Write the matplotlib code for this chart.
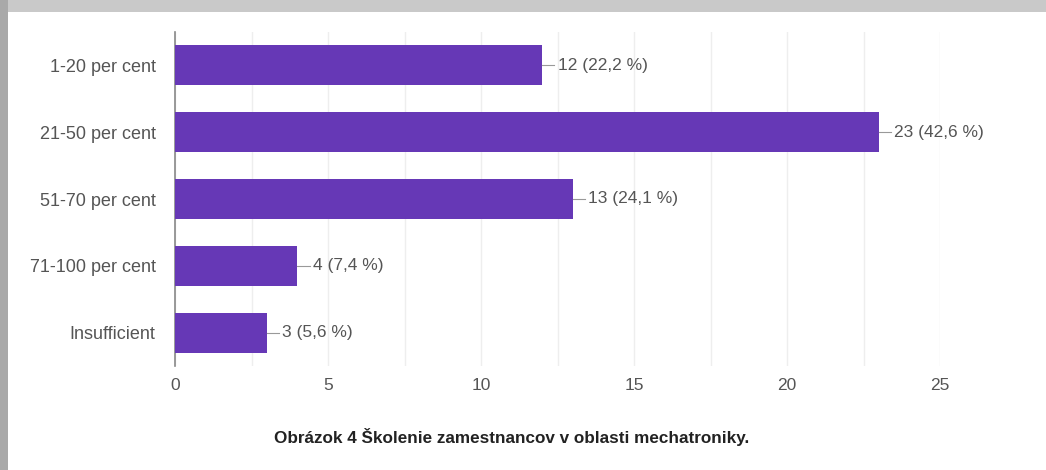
import matplotlib.pyplot as plt
from matplotlib.patches import Rectangle

# data
categories = ['1-20 per cent', '21-50 per cent', '51-70 per cent', '71-100 per cent', 'Insufficient']
counts = [12, 23, 13, 4, 3]
labels = ['12 (22,2 %)', '23 (42,6 %)', '13 (24,1 %)', '4 (7,4 %)', '3 (5,6 %)']
xticks = [0, 5, 10, 15, 20, 25]
caption = 'Obrázok 4 Školenie zamestnancov v oblasti mechatroniky.'

BAR = '#6638b6'
TXT = '#555555'
plt.rcParams['font.family'] = ['Liberation Sans', 'DejaVu Sans']

fig = plt.figure(figsize=(10.46, 4.70), dpi=100)
fig.patch.set_facecolor('white')

# grey frame of the screenshot (top band and left strip)
fig.patches.append(Rectangle((0, 1 - 12 / 470), 1, 12 / 470, transform=fig.transFigure,
                             facecolor='#c9c9c9', edgecolor='none', zorder=0))
fig.patches.append(Rectangle((0, 0), 8 / 1046, 1, transform=fig.transFigure,
                             facecolor='#a9a9a9', edgecolor='none', zorder=0))

ax = fig.add_axes([175 / 1046, 1 - 366 / 470, (940 - 175) / 1046, (366 - 32) / 470])

y = list(range(len(categories)))
ax.barh(y, counts, height=0.6, color=BAR, zorder=3)

for yi, v, lab in zip(y, counts, labels):
    ax.plot([v, v + 0.4], [yi, yi], color='#999999', lw=0.8, zorder=3)
    ax.text(v + 0.5, yi, lab, va='center', ha='left', fontsize=12.5, color=TXT)

ax.set_xlim(0, 25)
ax.set_ylim(len(categories) - 0.5, -0.5)
ax.set_yticks(y)
ax.set_yticklabels(categories, fontsize=13, color=TXT)
ax.set_xticks(xticks)
ax.set_xticklabels([str(t) for t in xticks], fontsize=12.5, color=TXT)
ax.set_xticks([2.5 * i for i in range(11)], minor=True)
ax.tick_params(axis='both', which='both', length=0)
ax.tick_params(axis='x', pad=9)
ax.tick_params(axis='y', pad=14)

ax.grid(axis='x', which='both', color='#eeeeee', lw=1, zorder=0)
for s in ['top', 'right', 'bottom']:
    ax.spines[s].set_visible(False)
ax.spines['left'].set_color('#888888')
ax.spines['left'].set_linewidth(1.2)

fig.text(512 / 1046, 1 - 437 / 470, caption, ha='center', va='center',
         fontsize=12.3, fontweight='bold', color='#222222')

fig.savefig('out.png', dpi=100)
